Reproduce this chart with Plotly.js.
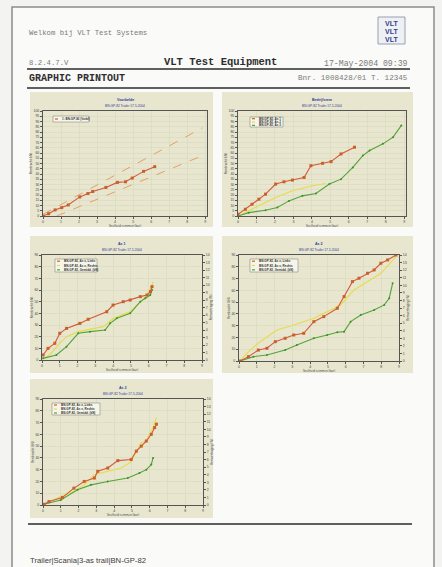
<!DOCTYPE html>
<html><head><meta charset="utf-8">
<script src="https://cdn.plot.ly/plotly-3.0.1.min.js"></script>
<style>html,body{margin:0;padding:0;background:#fff}#chart{width:442px;height:567px}</style>
</head><body><div id="chart"></div>
<script>
// ---------- texts ----------
const headerWelcome = "Welkom bij VLT Test Systems";
const headerVersion = "8.2.4.7.V";
const headerTitle = "VLT Test Equipment";
const headerDate = "17-May-2004 09:39";
const headerSection = "GRAPHIC PRINTOUT";
const headerOrder = "Bnr. 1008428/01 T. 12345";
const footerText = "Trailer|Scania|3-as trail|BN-GP-82";
const chartTitles = ["Voorbelde", "Bedrijfsrem", "As 1", "As 2", "As 3"];
const chartSubtitle = "BN-GP-82 Trailer 17-5-2004";
const xAxisTitle = "Snelheid remmen (bar)";
const yAxisTitle = "Remkracht (kN)";
const y2AxisTitle = "Remvertraging (%)";
const legend1 = ["1: BN-GP-82 (Vorbl)"];
const legend2 = ["BN-GP-82, As 1", "BN-GP-82, As 2", "BN-GP-82, As 3"];
const legendAxle = ["BN-GP-82, As x, Links", "BN-GP-82, As x, Rechts", "BN-GP-82, Gemidd. (kN)"];

// ---------- chart 1 ----------
const c1_x = [0, 0.31, 0.67, 1.04, 1.4, 2.04, 2.49, 2.76, 3.49, 4.13, 4.58, 4.95, 5.58, 6.2];
const c1_y = [0, 2.2, 5.8, 8, 10.5, 18.2, 21.4, 23.3, 27.2, 32, 32.6, 36.1, 42.5, 47];
const c1_upper_x = [0, 8.85];
const c1_upper_y = [1.6, 84];
const c1_lower_x = [0.76, 8.85];
const c1_lower_y = [0, 57.5];

// ---------- chart 2 ----------
const c2_red_x = [0, 0.4, 0.76, 1.13, 1.49, 2.04, 2.49, 2.95, 3.58, 3.95, 4.58, 5.04, 5.58, 6.31];
const c2_red_y = [1.6, 6.4, 11.2, 16, 20.8, 30.4, 32.6, 34.2, 36.7, 47.9, 50.2, 51.8, 59.1, 65.5];
const c2_yel_x = [0, 0.76, 2.04, 2.95, 4.04, 4.76];
const c2_yel_y = [0, 6.4, 17.6, 24, 28.8, 31];
const c2_grn_x = [0, 0.58, 1.49, 2.13, 2.76, 3.49, 4.22, 4.95, 5.58, 6.22, 6.76, 7.13, 7.85, 8.4, 8.85];
const c2_grn_y = [0, 3.2, 5.4, 8, 14.4, 19.2, 21.4, 30.4, 35.1, 46.3, 57.5, 62.3, 68.7, 75.1, 86.3];

// ---------- chart 3 ----------
const c3_red_x = [0.06, 0.34, 0.72, 1.0, 1.38, 2.13, 2.6, 3.64, 4.0, 4.57, 4.96, 5.53, 5.91, 6.1, 6.19];
const c3_red_y = [4.3, 10, 14.3, 22.9, 27.1, 31.4, 34.9, 41.4, 47.1, 50, 51.4, 54.3, 55.7, 58.6, 62.9];
const c3_yel_x = [0.06, 0.43, 0.91, 1.38, 2.04, 2.7, 3.45, 4.02, 4.96, 5.53, 5.91, 6.19, 6.25];
const c3_yel_y = [1.4, 4.3, 12.9, 20, 24.3, 26.3, 28.6, 35.7, 41.4, 50, 55.7, 64.3, 67];
const c3_grn_x = [0.06, 0.81, 1.38, 2.04, 2.7, 3.55, 3.83, 4.21, 4.96, 5.53, 5.81, 6.09, 6.19];
const c3_grn_y = [1.4, 4.3, 11.4, 22.9, 24.3, 25.7, 31.4, 35.7, 40, 50, 52.9, 55.7, 60];

// ---------- chart 4 ----------
const c4_red_x = [0.06, 0.53, 1.09, 1.57, 2.04, 2.6, 3.08, 3.64, 4.21, 4.77, 5.53, 5.91, 6.38, 6.75, 7.23, 7.6, 7.98, 8.36, 8.83];
const c4_red_y = [0, 3.7, 9.3, 10.8, 16.4, 19.3, 22.1, 23.5, 33.4, 37.7, 44.8, 54.7, 67.4, 70.3, 74.5, 77.3, 83, 85.8, 90];
const c4_yel_x = [0.06, 0.43, 1.19, 2.13, 3.08, 4.21, 4.96, 5.72, 6.47, 7.23, 7.98, 8.83];
const c4_yel_y = [0, 6.5, 16.4, 26.3, 30.6, 36.3, 41.9, 47.6, 60.3, 67.4, 74.5, 88.7];
const c4_grn_x = [0.06, 0.81, 1.57, 2.6, 3.26, 4.21, 4.96, 5.53, 5.91, 6.28, 6.85, 7.6, 8.17, 8.45, 8.64];
const c4_grn_y = [0, 3.7, 5.1, 9.3, 13.6, 19.3, 22.1, 24.4, 24.9, 33.4, 39.1, 43.3, 47.6, 53.3, 66];

// ---------- chart 5 ----------
const c5_red_x = [0.06, 0.34, 1.09, 1.74, 2.32, 2.89, 3.08, 3.64, 4.21, 4.96, 5.25, 5.53, 5.81, 6.09, 6.28, 6.38];
const c5_red_y = [0.6, 2.9, 6.3, 14.3, 20, 22.9, 28.6, 31.4, 37.7, 38.6, 45.7, 50, 54.3, 60, 65.7, 68.6];
const c5_yel_x = [0.06, 0.43, 1.19, 1.74, 2.32, 2.89, 3.64, 4.4, 4.96, 5.15, 5.53, 5.81, 6.19, 6.38];
const c5_yel_y = [0.6, 2.9, 8.6, 11.4, 17.1, 25.7, 28.6, 31.4, 36.6, 42.9, 52.9, 54.3, 65.7, 74.3];
const c5_grn_x = [0.06, 1.0, 1.94, 2.7, 3.64, 4.77, 5.43, 5.81, 6.09, 6.19];
const c5_grn_y = [0.6, 4.3, 12.9, 17.1, 20, 22.9, 27.1, 30, 34.3, 40];

// ---------- helpers ----------
const W = 442, H = 567;
const X = px => px / W;
const Y = py => 1 - py / H;
const RED = '#d4593a', RED_M = '#c9602c', YEL = '#e4dc4c', GRN = '#52a43a', DASH = '#e2a06a';

function tr(x, y, xa, ya, color, opts) {
  const t = {x: x, y: y, xaxis: xa, yaxis: ya, type: 'scatter', mode: 'lines',
    line: {color: color, width: 1.1}, hoverinfo: 'skip', showlegend: false};
  return Object.assign(t, opts || {});
}
const redOpts = {mode: 'lines+markers', marker: {size: 3, color: RED_M, symbol: 'square'}};
const grnOpts = {mode: 'lines+markers', marker: {size: 2, color: '#3d8f2c'}};

const data = [
  tr(c1_upper_x, c1_upper_y, 'x', 'y', DASH, {line: {color: DASH, width: 1, dash: 'dash'}}),
  tr(c1_lower_x, c1_lower_y, 'x', 'y', DASH, {line: {color: DASH, width: 1, dash: 'dash'}}),
  tr(c1_x, c1_y, 'x', 'y', RED, redOpts),
  tr(c2_yel_x, c2_yel_y, 'x2', 'y2', YEL),
  tr(c2_grn_x, c2_grn_y, 'x2', 'y2', GRN, grnOpts),
  tr(c2_red_x, c2_red_y, 'x2', 'y2', RED, redOpts),
  tr(c3_yel_x, c3_yel_y, 'x3', 'y3', YEL),
  tr(c3_grn_x, c3_grn_y, 'x3', 'y3', GRN, grnOpts),
  tr(c3_red_x, c3_red_y, 'x3', 'y3', RED, redOpts),
  tr(c4_yel_x, c4_yel_y, 'x4', 'y4', YEL),
  tr(c4_grn_x, c4_grn_y, 'x4', 'y4', GRN, grnOpts),
  tr(c4_red_x, c4_red_y, 'x4', 'y4', RED, redOpts),
  tr(c5_yel_x, c5_yel_y, 'x5', 'y5', YEL),
  tr(c5_grn_x, c5_grn_y, 'x5', 'y5', GRN, grnOpts),
  tr(c5_red_x, c5_red_y, 'x5', 'y5', RED, redOpts),
  // empty traces that only register the right-hand axes
  tr([], [], 'x3', 'y6', RED), tr([], [], 'x4', 'y7', RED), tr([], [], 'x5', 'y8', RED)
];

// plot areas [x0,x1,y0,y1] in px
const areas = [[43, 207, 111, 216], [238, 406, 111, 216], [42, 202, 255, 360], [239, 399, 255, 361], [43, 203, 399, 505]];
const panels = [[30, 213, 92, 227], [222, 413, 92, 227], [30, 213, 236, 373], [222, 413, 236, 373], [30, 213, 379, 518]];
const legendBoxes = [[53, 89, 116, 122], [250, 283, 117, 127], [55, 97, 259, 272], [250, 298, 259, 272], [52, 100, 403, 415]];

const tickFont = {size: 3.5, color: '#444', family: 'Liberation Sans'};
function xax(i, range) {
  const a = areas[i];
  return {domain: [X(a[0]), X(a[1])], anchor: 'y' + (i ? i + 1 : ''), range: range, dtick: 1,
    showline: true, mirror: true, linecolor: '#555', linewidth: 1, ticks: 'outside', ticklen: 2,
    tickcolor: '#555', tickfont: tickFont, gridcolor: '#d6d9bd', gridwidth: 0.6, zeroline: false,
    title: {text: xAxisTitle, font: {size: 3, color: '#333'}, standoff: 1}};
}
function yax(i, range, dtick) {
  const a = areas[i];
  return {domain: [Y(a[3]), Y(a[2])], anchor: 'x' + (i ? i + 1 : ''), range: range, dtick: dtick,
    showline: true, mirror: true, linecolor: '#555', linewidth: 1, ticks: 'outside', ticklen: 2,
    tickcolor: '#555', tickfont: tickFont, gridcolor: '#d6d9bd', gridwidth: 0.6, zeroline: false,
    title: {text: yAxisTitle, font: {size: 3, color: '#333'}, standoff: 1}};
}
function yright(i) {
  return {overlaying: 'y' + (i + 1), side: 'right', anchor: 'x' + (i + 1), range: [0, 14], dtick: 1,
    showgrid: false, zeroline: false, ticks: 'outside', ticklen: 2, tickcolor: '#555',
    tickfont: tickFont, showline: true, linecolor: '#555', linewidth: 1,
    title: {text: y2AxisTitle, font: {size: 3, color: '#333'}, standoff: 1}};
}

const shapes = [];
const annotations = [];
// page
shapes.push({type: 'rect', xref: 'paper', yref: 'paper', x0: X(12), x1: X(434), y0: Y(575), y1: Y(7),
  fillcolor: '#fafaf8', line: {color: '#8c8c8c', width: 1.5}, layer: 'below'});
// panels
panels.forEach(p => shapes.push({type: 'rect', xref: 'paper', yref: 'paper', x0: X(p[0]), x1: X(p[1]),
  y0: Y(p[3]), y1: Y(p[2]), fillcolor: '#e8e6cf', line: {width: 0}, layer: 'below'}));
// rules
[[27, 410, 69, 2], [27, 410, 88, 2], [28, 412, 524, 2]].forEach(l => shapes.push({type: 'line', xref: 'paper', yref: 'paper',
  x0: X(l[0]), x1: X(l[1]), y0: Y(l[2]), y1: Y(l[2]), line: {color: '#5f5f5f', width: l[3]}}));
// logo
shapes.push({type: 'rect', xref: 'paper', yref: 'paper', x0: X(378), x1: X(405), y0: Y(44), y1: Y(17),
  fillcolor: '#eef0f4', line: {color: '#9aa0b0', width: 1}});
[23, 31, 39].forEach(py => annotations.push({xref: 'paper', yref: 'paper', x: X(391.5), y: Y(py), text: '<b>VLT</b>',
  showarrow: false, font: {family: 'Liberation Sans', size: 7, color: '#2d3f8f'}, xanchor: 'center', yanchor: 'middle'}));

function txt(text, px, py, size, color, anchor, family, bold) {
  annotations.push({xref: 'paper', yref: 'paper', x: X(px), y: Y(py), text: bold ? '<b>' + text + '</b>' : text,
    showarrow: false, xanchor: anchor, yanchor: 'middle',
    font: {family: family || 'Liberation Mono', size: size, color: color}});
}
txt(headerWelcome, 27, 33, 7.3, '#7a7a7a', 'left');
txt(headerVersion, 27, 63, 7.3, '#7a7a7a', 'left');
txt(headerTitle, 220, 62, 10.5, '#2e2e2e', 'center', 'Liberation Mono', true);
txt(headerDate, 410, 63, 8.2, '#7a7a7a', 'right');
txt(headerSection, 27, 78, 10, '#2e2e2e', 'left', 'Liberation Mono', true);
txt(headerOrder, 410, 78, 7.6, '#7a7a7a', 'right');
txt(footerText, 28, 560, 7.7, '#3c3c3c', 'left', 'Liberation Sans');

// chart titles
areas.forEach((a, i) => {
  const cx = (a[0] + a[1]) / 2;
  txt(chartTitles[i], cx, a[2] - 11, 3.6, '#2c3b9c', 'center', 'Liberation Sans', true);
  txt(chartSubtitle, cx, a[2] - 5.5, 3.2, '#2c3b9c', 'center', 'Liberation Sans');
});

// legends
const legendSets = [legend1, legend2, legendAxle, legendAxle, legendAxle];
const legendColors = [[RED], [RED, YEL, GRN], [RED, YEL, GRN], [RED, YEL, GRN], [RED, YEL, GRN]];
legendBoxes.forEach((b, i) => {
  shapes.push({type: 'rect', xref: 'paper', yref: 'paper', x0: X(b[0]), x1: X(b[1]), y0: Y(b[3]), y1: Y(b[2]),
    fillcolor: '#f6f5ea', line: {color: '#8a8a80', width: 0.6}});
  const n = legendSets[i].length;
  const rh = (b[3] - b[2]) / n;
  legendSets[i].forEach((t, j) => {
    const cy = b[2] + rh * (j + 0.5);
    shapes.push({type: 'line', xref: 'paper', yref: 'paper', x0: X(b[0] + 2), x1: X(b[0] + 5), y0: Y(cy), y1: Y(cy),
      line: {color: legendColors[i][j], width: 1.2}});
    txt(t, b[0] + 7, cy, 3, '#333', 'left', 'Liberation Sans', true);
  });
});

const layout = {
  width: W, height: H, margin: {l: 0, r: 0, t: 0, b: 0},
  paper_bgcolor: '#f3f3f1', plot_bgcolor: '#f4f3e3', showlegend: false,
  xaxis: xax(0, [0, 9.1]), yaxis: yax(0, [0, 100], 5),
  xaxis2: xax(1, [0, 9.1]), yaxis2: yax(1, [0, 100], 5),
  xaxis3: xax(2, [0, 9]), yaxis3: yax(2, [0, 90], 10),
  xaxis4: xax(3, [0, 9]), yaxis4: yax(3, [0, 90], 10),
  xaxis5: xax(4, [0, 9]), yaxis5: yax(4, [0, 90], 10),
  yaxis6: yright(2), yaxis7: yright(3), yaxis8: yright(4),
  shapes: shapes, annotations: annotations
};

Plotly.newPlot('chart', data, layout, {staticPlot: true, displayModeBar: false});
</script></body></html>
